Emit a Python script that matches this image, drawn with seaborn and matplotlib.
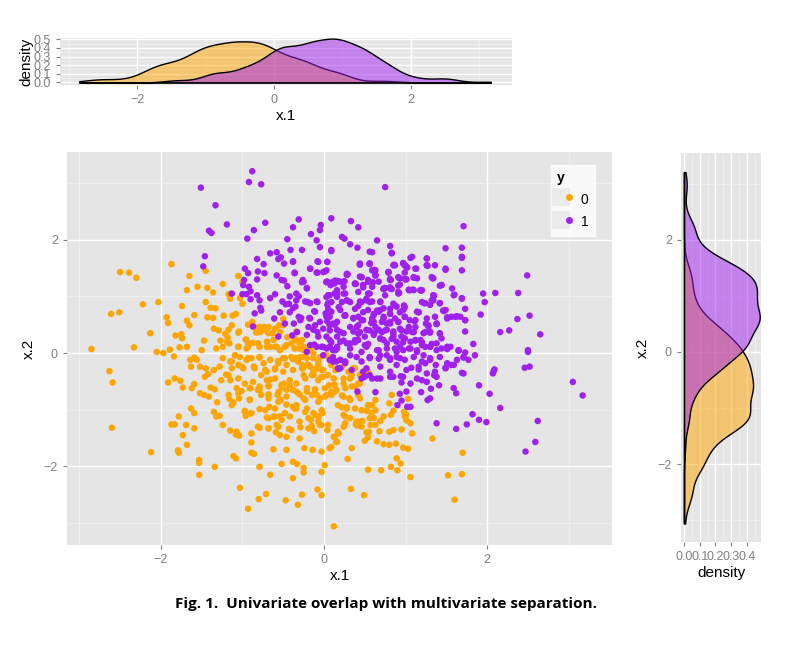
import matplotlib
matplotlib.use("Agg")
import matplotlib.pyplot as plt
from matplotlib.lines import Line2D
from matplotlib.legend_handler import HandlerTuple
import seaborn as sns
import pandas as pd

# points, (x.1, x.2), class y = 0 (orange)
class0_points = [
    (-2.50, 1.43), (-2.39, 1.42), (-2.30, 1.33), (-1.87, 1.57), (-1.65, 1.36), (-1.45, 1.45),
    (-2.22, 0.86), (-2.61, 0.69), (-2.51, 0.72), (-2.03, 0.90), (-2.13, 0.35), (-2.85, 0.07),
    (-2.33, 0.10), (-1.74, 0.83), (-1.93, 0.63), (-1.91, 0.53), (-1.68, 1.11), (-1.55, 1.17),
    (-1.43, 1.15), (-1.36, 1.07), (-1.24, 1.22), (-1.45, 0.90), (-1.39, 0.80), (-1.33, 0.79),
    (-1.59, 0.67), (-1.68, 0.57), (-1.65, 0.49), (-1.43, 0.63), (-1.36, 0.62), (-1.23, 0.66),
    (-1.12, 0.66), (-1.08, 0.69), (-1.17, 1.04), (-1.15, 0.96), (-1.05, 1.36), (-1.00, 1.25),
    (-1.03, 0.97), (-1.00, 0.87), (-1.35, 0.43), (-1.29, 0.40), (-1.21, 0.34), (-1.18, 0.27),
    (-1.13, 0.49), (-1.05, 0.36), (-1.82, 0.31), (-1.75, 0.33), (-1.74, 0.26), (-1.47, 0.22),
    (-1.27, 0.22), (-1.77, 0.10), (-1.68, 0.11), (-1.50, 0.05), (-1.16, 0.17), (-0.96, 0.24),
    (-0.88, 0.55), (-0.93, 0.50), (-0.84, 0.45), (-0.79, 0.46), (-0.73, 0.46), (-0.70, 0.40),
    (-0.78, 0.37), (-0.83, 0.36), (-0.68, 0.46), (-0.63, 0.35), (-0.55, 0.49), (-0.50, 0.60),
    (-0.54, 0.37), (-0.45, 0.28), (-0.93, 0.17), (-0.87, 0.18), (-0.79, 0.11), (-0.70, 0.11),
    (-0.93, 0.11), (-0.62, 0.23), (-0.58, 0.11), (-0.48, 0.11), (-0.34, 0.23), (-0.30, 0.17),
    (-0.25, 0.11), (-0.17, 0.08), (-0.36, 0.08),
    (-2.63, -0.32), (-2.59, -0.52), (-2.60, -1.32), (-2.12, -1.75), (-2.05, 0.02), (-1.97, 0.00),
    (-1.89, 0.06), (-1.84, -0.06), (-1.91, -0.52), (-1.83, -0.45), (-1.76, -0.49), (-1.73, -0.61),
    (-1.63, -0.98), (-1.59, -1.06), (-1.78, -1.12), (-1.87, -1.26), (-1.83, -1.26), (-1.69, -1.27),
    (-1.59, -1.33), (-1.73, -1.45), (-1.68, -1.62), (-1.79, -1.72), (-1.78, -1.76), (-1.53, -1.89),
    (-1.53, -1.94), (-1.53, -2.15), (-1.34, -2.01), (-1.03, -2.38), (-0.93, -2.75), (-0.80, -2.58),
    (-0.71, -2.49), (-0.47, -2.60), (-0.32, -2.68), (-0.27, -2.50), (-0.08, -2.41), (-0.03, -2.51),
    (-0.79, -2.01), (-0.66, -2.15), (-0.38, -2.21), (-0.38, -1.92), (-0.33, -1.96), (-0.25, -2.03),
    (-0.25, -2.11), (-0.03, -2.10), (0.01, -1.98), (-1.11, -1.82), (-1.08, -1.86), (-0.89, -1.76),
    (-0.86, -1.78), (-0.62, -1.70), (-0.46, -1.71), (-0.24, -1.68), (-0.14, -1.71), (-0.03, -1.74),
    (-0.89, -1.58), (-0.52, -1.96), (-0.30, -1.51), (0.07, -1.68),
    (-1.24, -1.27), (-1.15, -1.37), (-1.08, -1.44), (-1.04, -1.46), (-0.79, -1.32), (-0.68, -1.33),
    (-0.59, -1.40), (-0.54, -1.45), (-0.46, -1.48), (-0.43, -1.34), (-0.29, -1.31), (-0.15, -1.29),
    (-0.12, -1.38), (-0.03, -1.27), (0.04, -1.36), (0.12, -1.48), (0.15, -1.57),
    (-1.35, -1.04), (-1.32, -1.12), (-1.28, -1.11), (-0.97, -1.02), (-0.90, -1.07), (-0.96, -1.11),
    (-0.79, -0.99), (-0.70, -1.14), (-0.62, -1.12), (-0.54, -1.12), (-0.58, -1.27), (-0.67, -0.95),
    (-0.53, -0.83), (-0.46, -0.91), (-0.38, -0.95), (-0.34, -0.98), (-0.21, -0.98), (-0.13, -1.06),
    (-0.07, -1.12), (-0.02, -1.06), (-0.05, -1.27), (-0.16, -1.18),
    (-1.62, -0.62), (-1.59, -0.55), (-1.52, -0.71), (-1.47, -0.74), (-1.41, -0.77), (-1.39, -0.61),
    (-1.34, -0.64), (-1.31, -0.87), (-1.16, -0.81), (-1.11, -0.87), (-1.04, -0.80), (-0.91, -0.82),
    (-1.01, -0.67), (-0.90, -0.62), (-0.79, -0.65), (-0.68, -0.73), (-0.79, -0.59), (-0.68, -0.58),
    (-0.57, -0.74), (-0.55, -0.68), (-0.52, -0.60), (-0.49, -0.54), (-0.42, -0.57), (-0.38, -0.65),
    (-0.30, -0.73), (-0.21, -0.68), (-0.25, -0.80), (-0.11, -0.64), (-0.09, -0.74), (-0.05, -0.80),
    (0.03, -0.74), (0.06, -0.57), (0.15, -0.65),
    (-1.64, -0.12), (-1.59, -0.08), (-1.56, -0.12), (-1.63, -0.24), (-1.52, -0.24), (-1.45, -0.27),
    (-1.46, -0.42), (-1.42, -0.37), (-1.35, -0.30), (-1.28, -0.24), (-1.24, -0.09), (-1.26, -0.48),
    (-1.20, -0.38), (-1.15, -0.48), (-1.13, -0.15), (-1.09, -0.04), (-1.05, -0.21), (-0.99, -0.27),
    (-0.95, -0.12), (-0.89, -0.09), (-0.86, -0.24), (-0.79, -0.08), (-0.74, -0.18), (-0.70, -0.33),
    (-0.66, -0.47), (-0.60, -0.29), (-0.56, -0.14), (-0.50, -0.09), (-0.46, -0.21), (-0.38, -0.11),
    (-0.29, -0.07), (-0.26, -0.27), (-0.21, -0.21), (-0.13, -0.34), (-0.09, -0.27), (-0.01, -0.42),
    (-1.32, 0.08), (-1.24, 0.11), (-1.05, 0.11), (-0.95, 0.08), (-0.66, 0.11), (-0.54, 0.05),
    (-0.30, 0.08), (-0.19, 0.05),
    (1.33, -1.51), (1.70, -1.76), (1.69, -2.14), (1.52, -2.16), (1.60, -2.59), (1.06, -2.19),
    (0.54, -2.06), (0.70, -2.07), (0.82, -2.01), (0.90, -2.07), (0.94, -1.95), (0.89, -1.86),
    (0.33, -2.40), (0.49, -2.51), (0.12, -3.06), (0.29, -1.87), (0.34, -1.68), (0.73, -1.61),
    (0.80, -1.62), (0.88, -1.60), (0.97, -1.67), (1.03, -1.69),
    (1.08, -1.42), (1.06, -1.24), (1.01, -1.19), (0.95, -1.35), (0.85, -1.36), (0.80, -1.39),
    (0.68, -1.38), (0.65, -1.56), (0.50, -1.55), (0.54, -1.49), (0.55, -1.39), (0.47, -1.20),
    (0.41, -1.28), (0.24, -1.30), (0.18, -1.42), (0.13, -1.48), (0.16, -1.57), (0.09, -1.66),
    (0.98, -1.04), (1.01, -1.09), (0.99, -1.12), (0.85, -1.02), (0.82, -1.09), (0.73, -1.12),
    (0.69, -1.20), (0.61, -1.15), (0.57, -1.27), (0.52, -1.40), (0.45, -1.21), (0.39, -1.26),
    (0.32, -1.15), (0.24, -1.09), (0.26, -1.12), (0.22, -0.96), (0.28, -0.96), (0.38, -0.98),
    (0.83, -0.74), (1.03, -0.81), (0.80, -0.89), (0.63, -0.83), (0.59, -0.92), (0.54, -0.94),
    (0.63, -1.01), (0.52, -1.02), (0.44, -0.80), (0.31, -0.80), (0.22, -0.75), (0.14, -0.68),
    (0.12, -0.56), (0.26, -0.62), (0.38, -0.59), (0.44, -0.54), (0.32, -0.45), (0.24, -0.54),
    (0.30, -0.33), (0.38, -0.27), (0.44, -0.39), (0.54, -0.33), (0.14, -0.30), (0.22, -0.24),
    (0.12, -0.45),
    (-0.34, 0.38), (-0.36, 0.26), (-0.29, 0.17), (-0.25, 0.05), (-0.17, 0.08), (-0.34, -0.09),
    (-0.21, -0.09), (-0.13, -0.01), (-0.05, -0.07), (0.03, -0.04), (-0.27, -0.21), (-0.17, -0.24),
    (-0.07, -0.21), (-0.01, -0.30), (-0.25, -0.39), (-0.13, -0.39), (-0.03, -0.42), (0.09, -0.21),
    (0.36, -0.27), (0.34, -0.39), (0.46, -0.36),
    # dense core, second reading
    (-1.17, 0.41), (-1.04, 0.38), (-0.87, 0.46), (-0.81, 0.41), (-0.72, 0.43), (-0.68, 0.35),
    (-0.60, 0.43), (-0.50, 0.49), (-1.19, 0.20), (-1.05, 0.11), (-0.95, 0.23), (-0.81, 0.17),
    (-0.70, 0.20), (-0.60, 0.11), (-0.46, 0.14), (-0.40, 0.17), (-0.27, 0.23),
    (-1.15, -0.15), (-1.09, -0.04), (-1.03, -0.07), (-0.93, -0.09), (-0.79, -0.07), (-0.66, -0.12),
    (-0.56, -0.18), (-0.48, -0.09), (-0.40, -0.07), (-0.32, -0.15), (-0.25, -0.07), (-0.19, -0.21),
    (-0.13, -0.09), (-0.07, -0.15), (0.01, -0.04), (-1.13, -0.27), (-1.01, -0.24), (-0.85, -0.27),
    (-0.72, -0.30), (-0.60, -0.27), (-0.50, -0.33), (-0.38, -0.30), (-0.27, -0.27), (-0.13, -0.33),
    (-0.03, -0.30),
    (-1.17, -0.39), (-1.05, -0.45), (-0.97, -0.54), (-0.87, -0.51), (-0.77, -0.39), (-0.70, -0.48),
    (-0.60, -0.45), (-0.52, -0.56), (-0.42, -0.48), (-0.34, -0.54), (-0.23, -0.45), (-0.15, -0.39),
    (-0.07, -0.48), (0.05, -0.39), (0.13, -0.56), (0.24, -0.45), (0.34, -0.59), (0.42, -0.54),
    (-1.07, -0.62), (-0.91, -0.62), (-0.81, -0.65), (-0.68, -0.59), (-0.56, -0.71), (-0.46, -0.65),
    (-0.34, -0.68), (-0.21, -0.62), (-0.11, -0.65), (0.01, -0.62), (0.09, -0.68),
    (-1.17, -0.74), (-1.05, -0.71), (-0.91, -0.83), (-0.77, -0.74), (-0.68, -0.80), (-0.56, -0.86),
    (-0.46, -0.77), (-0.34, -0.92), (-0.23, -0.83), (-0.15, -0.74), (-0.07, -0.86), (0.01, -0.77),
    (0.09, -0.74), (0.24, -0.77), (0.32, -0.83), (0.42, -0.74), (0.54, -0.92), (-0.97, -1.04),
    (-0.89, -1.06), (-0.72, -1.01), (-0.60, -0.98), (-0.48, -1.06), (-0.36, -0.98), (-0.23, -1.04),
    (-0.11, -1.09), (-0.03, -1.01), (0.17, -0.92), (0.28, -0.98), (0.46, -1.01), (0.58, -1.06),
    (-1.13, -0.92),
    (-0.68, -1.15), (-0.60, -1.12), (-0.52, -1.18), (-0.42, -1.12), (-0.30, -1.21), (-0.19, -1.15),
    (-0.07, -1.21), (0.05, -1.27), (0.17, -1.39), (0.26, -1.24), (0.40, -1.21), (0.46, -1.30),
    (0.56, -1.15), (-0.81, -1.30), (-0.68, -1.33), (-0.56, -1.30), (-0.40, -1.36), (-0.19, -1.33),
    (-1.07, -1.39), (-0.89, -1.42), (0.63, -1.27),
]

# class y = 1 (purple)
class1_points = [
    (-0.88, 3.21), (-0.92, 3.02), (-0.77, 2.98), (-1.51, 2.92), (-1.33, 2.61), (-1.19, 2.27),
    (-1.41, 2.16), (-1.38, 2.12), (-0.86, 2.17), (-0.72, 2.30), (-0.94, 2.02), (-1.46, 1.71),
    (-1.48, 1.53), (-0.31, 2.36), (-0.38, 2.22), (-0.45, 2.01), (-0.16, 2.10), (-0.05, 2.17),
    (-0.04, 2.26), (0.09, 2.38), (-0.09, 1.99), (-0.05, 1.87), (-0.82, 1.66), (-0.66, 1.76),
    (-0.58, 1.78), (-0.53, 1.69), (-0.56, 1.66), (-0.41, 1.82), (-0.27, 1.82), (-0.38, 1.62),
    (-0.49, 1.58), (-0.74, 1.57), (-0.97, 1.49), (-0.93, 1.41), (-0.81, 1.44), (-0.73, 1.41),
    (-0.82, 1.30), (-0.98, 1.29), (-0.99, 1.20), (-0.92, 1.17), (-1.00, 1.04), (-0.95, 1.04),
    (-0.90, 1.09), (-1.13, 1.05), (-0.82, 1.02), (-0.90, 0.95), (-0.79, 0.93), (-0.78, 0.80),
    (-0.77, 0.75), (-0.66, 0.97), (-0.60, 1.04), (-0.58, 1.37), (-0.52, 1.29), (-0.49, 1.28),
    (-0.45, 1.18), (-0.36, 1.42), (-0.26, 1.29), (-0.27, 1.25), (-0.21, 1.15), (-0.17, 1.49),
    (-0.08, 1.42), (0.01, 1.44), (-0.08, 1.62), (0.04, 1.61), (-0.42, 1.00), (-0.51, 0.91),
    (-0.47, 0.86), (-0.43, 0.87), (-0.31, 1.00), (-0.35, 0.82), (-0.42, 0.72), (-0.61, 0.61),
    (-0.54, 0.72), (-0.48, 0.52), (-0.37, 0.52), (-0.28, 0.62), (-0.18, 0.62), (-0.20, 0.90),
    (-0.08, 0.90), (-0.12, 0.74), (-0.11, 0.49), (0.03, 0.99), (0.04, 0.85), (0.04, 1.26),
    (0.08, 1.20), (0.13, 1.23), (0.13, 1.05), (0.02, 0.70), (0.04, 0.56), (0.13, 0.50),
    (-0.33, 0.37), (-0.39, 0.31), (-0.21, 0.32), (-0.08, 0.37), (0.03, 0.29), (-0.12, 0.15),
    (-0.01, 0.11), (-0.56, 0.29), (-0.87, 0.47), (-0.85, 0.70),
    (0.75, 2.93), (0.33, 2.33), (0.42, 2.22), (1.71, 2.24), (0.22, 2.05), (0.25, 2.02),
    (0.32, 1.92), (0.41, 1.86), (0.65, 1.99), (0.81, 1.89), (0.83, 1.77), (0.59, 1.78),
    (0.09, 1.80), (1.49, 1.85), (1.69, 1.86), (1.69, 1.68), (1.06, 1.68), (1.26, 1.67),
    (0.97, 1.59), (1.02, 1.51), (1.00, 1.54), (1.27, 1.54), (1.13, 1.49), (0.86, 1.56),
    (0.44, 1.56), (0.56, 1.57), (0.62, 1.47), (0.63, 1.37), (1.49, 1.47), (2.49, 1.37),
    (0.99, 1.42), (0.92, 1.33), (1.10, 1.33), (1.00, 1.30), (1.33, 1.32), (0.29, 1.39),
    (0.79, 1.43), (0.46, 1.34), (0.54, 1.29), (0.60, 1.25), (0.17, 1.27), (0.25, 1.27),
    (0.12, 1.23), (0.39, 1.22), (0.48, 1.20), (0.82, 1.29), (1.44, 1.20), (0.73, 1.13),
    (0.75, 1.15), (0.83, 1.13), (0.93, 1.21), (0.92, 1.06), (1.04, 1.12), (1.09, 1.12),
    (1.19, 1.10), (1.60, 1.03), (1.69, 0.97), (1.95, 1.05), (2.10, 1.06), (2.38, 1.06),
    (1.97, 0.90), (1.35, 1.01), (1.32, 0.93), (1.42, 0.88), (1.23, 0.88), (1.73, 0.78),
    (1.63, 0.65), (1.56, 0.64), (1.51, 0.63), (1.47, 0.74), (1.92, 0.68), (2.52, 0.66),
    (2.37, 0.60), (1.73, 0.58), (2.16, 0.37), (2.27, 0.40), (2.65, 0.33), (1.83, 0.16),
    (2.50, 0.05), (1.65, 0.05), (1.51, 0.11), (1.38, 0.17), (1.16, 0.72), (1.05, 0.58),
    (1.11, 0.56), (0.98, 0.78), (0.98, 0.84), (0.86, 0.85), (0.81, 0.69), (0.69, 0.76),
    (0.61, 0.69), (0.58, 0.53), (0.65, 0.40), (0.56, 0.90), (0.46, 0.90), (0.42, 0.83),
    (0.32, 0.90), (0.24, 1.05), (0.22, 0.90), (0.16, 0.99), (0.25, 0.66), (0.36, 0.62),
    (0.48, 0.58), (0.73, 0.61), (0.81, 0.52), (0.91, 0.55), (1.25, 0.52), (1.28, 0.47),
    (1.38, 0.51), (1.30, 0.36), (1.42, 0.35), (1.18, 0.23), (1.06, 0.20), (0.95, 0.29),
    (0.85, 0.29), (0.73, 0.23), (0.52, 0.14), (0.38, 0.23), (0.28, 0.17), (0.16, 0.29),
    (0.11, 0.52), (0.16, 0.11), (0.44, 0.37), (0.61, 0.32), (0.75, 0.40), (1.10, 0.37),
    (0.93, 0.11), (1.30, 0.11), (1.14, 0.05),
    (2.50, 0.02), (2.46, -0.26), (2.52, -0.24), (2.08, -0.32), (2.09, -0.29), (2.07, -0.36),
    (3.05, -0.51), (3.17, -0.75), (1.90, -0.57), (2.03, -0.72), (2.16, -0.97), (1.82, -1.08),
    (1.90, -1.18), (1.99, -1.22), (1.75, -1.26), (1.62, -1.34), (1.38, -1.24), (2.62, -1.20),
    (2.59, -1.57), (2.47, -1.74), (1.69, -0.35), (1.59, -0.62), (1.62, -0.71), (1.85, -0.04),
    (1.77, -0.12), (1.71, -0.08), (1.73, 0.01), (1.65, 0.04), (1.49, -0.26), (1.56, -0.21),
    (1.51, 0.07), (1.41, -0.57), (1.19, -0.69), (1.31, -0.63), (1.27, -0.83), (1.30, -0.80),
    (1.26, -0.51), (1.20, -0.48), (1.16, -0.29), (1.07, -0.26), (1.35, -0.39), (1.37, -0.21),
    (1.30, -0.09), (1.22, -0.04), (1.14, 0.02), (1.06, 0.08), (1.24, -0.18), (1.06, -0.54),
    (0.95, -0.52), (0.94, -0.41), (0.85, -0.42), (1.01, -0.68), (0.93, -0.72), (0.95, -0.84),
    (0.90, -0.92), (1.02, -0.95), (1.06, -0.95), (0.63, -0.69), (0.41, -0.68), (0.69, -0.45),
    (0.59, -0.45), (0.50, -0.42), (0.48, -0.33), (0.56, -0.39), (0.18, -0.28), (0.11, -0.15),
    (0.26, -0.15), (0.32, -0.04), (0.46, 0.02), (0.56, -0.09), (0.69, -0.04), (0.77, 0.08),
    (0.89, 0.02), (0.97, 0.05), (0.81, -0.09), (0.93, -0.09),
    (-0.21, 0.02), (-0.09, 0.11), (0.03, 0.08), (0.11, 0.05), (0.15, -0.15), (0.07, -0.12),
    (0.17, -0.27), (-0.01, -0.04),
    (-0.38, 1.61), (-0.17, 1.49), (-0.07, 1.61), (0.04, 1.61), (-0.09, 1.42), (-0.01, 1.43),
    (0.09, 1.82), (0.56, 1.79), (0.83, 1.76), (1.08, 1.70), (1.26, 1.67), (1.26, 1.55),
    (1.69, 1.70), (0.44, 1.57), (0.56, 1.58), (0.85, 1.55), (0.97, 1.58), (1.01, 1.52),
    (0.79, 1.42), (0.59, 1.46), (0.63, 1.38), (1.49, 1.49), (1.69, 1.46),
    (-0.36, 1.41), (-0.25, 1.26), (0.03, 1.26), (0.11, 1.26), (0.20, 1.26), (0.24, 1.17),
    (0.16, 1.11), (0.07, 1.02), (0.28, 1.38), (0.38, 1.23), (0.44, 1.35), (0.48, 1.20),
    (0.54, 1.26), (0.59, 1.17), (0.67, 1.26), (0.81, 1.29), (0.93, 1.32), (1.01, 1.30),
    (1.14, 1.32), (1.34, 1.32), (1.44, 1.20), (1.57, 1.14), (0.73, 1.14), (0.81, 1.14),
    (0.91, 1.08), (1.04, 1.11), (1.10, 1.11), (1.20, 1.11), (1.34, 1.02), (1.59, 1.02),
    (1.69, 0.96), (-0.34, 1.05), (-0.21, 1.14), (-0.34, 0.93), (-0.23, 0.91), (0.28, 0.93),
    (0.56, 1.05), (0.59, 0.91), (0.69, 0.91), (0.44, 0.91), (0.52, 0.96),
    (-0.38, 0.79), (-0.31, 0.64), (-0.17, 0.88), (-0.09, 0.91), (-0.11, 0.73), (0.05, 0.88),
    (0.09, 0.73), (0.03, 0.64), (0.20, 0.76), (0.26, 0.67), (0.36, 0.61), (0.46, 0.58),
    (0.54, 0.76), (0.61, 0.67), (0.67, 0.73), (0.73, 0.79), (0.81, 0.70), (0.89, 0.82),
    (0.97, 0.76), (0.99, 0.64), (1.14, 0.73), (1.24, 0.88), (1.30, 0.85), (1.42, 0.88),
    (1.49, 0.76), (1.61, 0.64), (1.67, 0.64), (1.73, 0.58), (1.51, 0.61), (1.26, 0.61),
    (1.38, 0.52), (0.81, 0.55), (0.71, 0.55), (0.61, 0.55), (-0.05, 0.55), (-0.17, 0.61),
    (-0.29, 0.58), (0.16, 0.55),
    (-0.19, 0.46), (-0.13, 0.41), (-0.01, 0.43), (0.07, 0.49), (0.16, 0.41), (0.24, 0.35),
    (0.36, 0.38), (0.40, 0.46), (0.52, 0.41), (0.61, 0.35), (0.67, 0.41), (0.77, 0.41),
    (0.85, 0.38), (0.93, 0.43), (1.01, 0.38), (1.12, 0.46), (1.22, 0.35), (1.30, 0.38),
    (1.44, 0.26), (1.55, 0.11), (1.65, 0.05), (1.73, 0.38), (-0.07, 0.29), (0.07, 0.23),
    (0.20, 0.20), (0.32, 0.17), (0.42, 0.23), (0.50, 0.29), (0.69, 0.26), (0.77, 0.17),
    (0.89, 0.20), (0.99, 0.26), (1.12, 0.23), (1.20, 0.14), (1.30, 0.11), (1.38, 0.05),
    (0.07, 0.11), (-0.03, 0.11), (-0.17, 0.14), (0.16, 0.08), (0.52, 0.11), (0.65, 0.05),
    (0.11, -0.07), (0.20, -0.12), (0.26, -0.18), (0.40, -0.07), (0.46, -0.15), (0.56, -0.07),
    (0.67, -0.10), (0.77, -0.04), (0.81, -0.12), (0.89, -0.07), (0.99, -0.12), (1.10, -0.07),
    (1.20, -0.15), (1.30, -0.12), (1.42, -0.07), (1.51, -0.18), (1.63, -0.12), (1.71, -0.07),
    (0.20, -0.27), (0.34, -0.30), (0.52, -0.27), (0.69, -0.24), (0.81, -0.33), (0.89, -0.21),
    (1.01, -0.30), (1.16, -0.24), (1.26, -0.36), (1.36, -0.33), (1.49, -0.27), (1.59, -0.21),
    (1.71, -0.36), (0.46, -0.45), (0.65, -0.45), (0.81, -0.42), (0.97, -0.42), (1.14, -0.45),
    (1.38, -0.42),
    # dense core, second reading
    (0.03, 1.46), (0.28, 1.40), (0.44, 1.58), (0.56, 1.58), (0.63, 1.46), (0.79, 1.43),
    (0.87, 1.55), (0.99, 1.55), (1.12, 1.49), (1.26, 1.55), (1.36, 1.55), (0.46, 1.34),
    (0.63, 1.37), (0.81, 1.31), (0.91, 1.34), (0.99, 1.31), (1.10, 1.34), (1.32, 1.34),
    (0.03, 1.25), (0.14, 1.28), (0.24, 1.25), (0.38, 1.22), (0.48, 1.16), (0.73, 1.13),
    (0.81, 1.16), (0.91, 1.19), (1.06, 1.11), (1.18, 1.11), (1.42, 1.19), (0.05, 1.02),
    (0.16, 1.05), (0.26, 1.05), (0.42, 1.08), (0.54, 1.05), (0.75, 1.02), (0.91, 1.05),
    (1.34, 1.02), (0.09, 0.90), (0.28, 0.93), (0.52, 0.93), (0.69, 0.90), (0.85, 0.87),
    (0.99, 0.81), (1.20, 0.90), (1.34, 0.93), (0.05, 0.78), (0.18, 0.81), (0.38, 0.78),
    (0.48, 0.72), (0.65, 0.75), (0.81, 0.78), (0.93, 0.72), (1.16, 0.72), (1.46, 0.75),
    (0.07, 0.64), (0.26, 0.66), (0.42, 0.64), (0.59, 0.61), (0.73, 0.64), (0.87, 0.61),
    (0.99, 0.64), (1.36, 0.64), (0.14, 0.52), (0.32, 0.46), (0.42, 0.49), (0.59, 0.55),
    (0.63, 0.46), (0.77, 0.52), (0.91, 0.55), (1.04, 0.46), (1.12, 0.58), (1.28, 0.49),
    (1.38, 0.52), (0.07, 0.40), (0.20, 0.37), (0.42, 0.34), (0.56, 0.40), (0.71, 0.37),
    (0.85, 0.34), (0.95, 0.40), (1.08, 0.37), (1.24, 0.37), (1.42, 0.34), (0.09, 0.19),
    (0.24, 0.22), (0.38, 0.19), (0.54, 0.16), (0.69, 0.25), (0.83, 0.25), (0.97, 0.19),
    (1.12, 0.22), (1.20, 0.19), (1.32, 0.16), (0.14, 0.05), (0.32, 0.08), (0.50, 0.14),
    (0.67, 0.05), (0.87, 0.08), (1.04, 0.08), (1.24, 0.11), (1.44, 0.08),
]

class_labels = ["0", "1"]
class_colors = {"0": "#FFA500", "1": "#A020F0"}

df = pd.DataFrame(
    [(a, b, "0") for a, b in class0_points] + [(a, b, "1") for a, b in class1_points],
    columns=["x.1", "x.2", "y"],
)

grey_bg = "#E5E5E5"
tick_grey = "#7F7F7F"

plt.rcParams["font.family"] = ["Liberation Sans", "DejaVu Sans"]

fig = plt.figure(figsize=(8.01, 6.45), dpi=100)
ax_main = fig.add_axes([67 / 801, 100 / 645, 545 / 801, 393 / 645])
ax_top = fig.add_axes([60 / 801, 560 / 645, 452 / 801, 47 / 645])
ax_right = fig.add_axes([681 / 801, 103 / 645, 80 / 801, 389 / 645])


def ggplot_axes(ax, xmajor, xminor, ymajor, yminor):
    ax.set_facecolor(grey_bg)
    for s in ax.spines.values():
        s.set_visible(False)
    ax.set_xticks(xmajor)
    ax.set_yticks(ymajor)
    ax.set_xticks(xminor, minor=True)
    ax.set_yticks(yminor, minor=True)
    ax.grid(True, which="major", color="white", linewidth=1.0)
    ax.grid(True, which="minor", color="#F2F2F2", linewidth=0.5)
    ax.set_axisbelow(True)
    ax.tick_params(which="major", colors=tick_grey, labelsize=9, length=3, width=0.8)
    ax.tick_params(which="minor", length=0)


# main scatter
sns.scatterplot(data=df, x="x.1", y="x.2", hue="y", palette=class_colors,
                s=22, linewidth=0, alpha=1, legend=False, ax=ax_main)
ax_main.set_xlim(-3.15, 3.53)
ax_main.set_ylim(-3.39, 3.55)
ggplot_axes(ax_main, [-2, 0, 2], [-3, -1, 1, 3], [-2, 0, 2], [-3, -1, 1, 3])
ax_main.set_xticklabels(["\u22122", "0", "2"])
ax_main.set_yticklabels(["\u22122", "0", "2"])
ax_main.set_xlabel("x.1", fontsize=11, labelpad=2)
ax_main.set_ylabel("x.2", fontsize=11, labelpad=6)

# legend with grey key boxes like ggplot
handles = [(Line2D([], [], marker="s", linestyle="", markersize=13,
                   markerfacecolor="#EBEBEB", markeredgewidth=0),
            Line2D([], [], marker="o", linestyle="", markersize=5,
                   markerfacecolor=class_colors[c], markeredgewidth=0))
           for c in class_labels]
leg = ax_main.legend(handles=handles, labels=class_labels, title="y", loc="upper right",
                     bbox_to_anchor=(0.968, 0.968), borderaxespad=0, frameon=True,
                     fancybox=False, fontsize=10, handletextpad=0.5, borderpad=0.45,
                     labelspacing=0.45, handlelength=1.2, handleheight=1.4,
                     handler_map={tuple: HandlerTuple(ndivide=None, pad=0)})
leg.get_frame().set_facecolor("white")
leg.get_frame().set_edgecolor("white")
leg.get_title().set_fontweight("bold")
leg.get_title().set_fontsize(10)
leg._legend_box.align = "left"

# top marginal density of x.1 (purple drawn over orange)
sns.kdeplot(data=df, x="x.1", hue="y", hue_order=["1", "0"], palette=class_colors,
            fill=True, alpha=0.5, common_norm=False, common_grid=True, cut=0, bw_adjust=0.8,
            edgecolor="black", linewidth=1.0, legend=False, ax=ax_top)
ax_top.set_xlim(-3.13, 3.48)
ax_top.set_ylim(-0.03, 0.515)
ggplot_axes(ax_top, [-2, 0, 2], [-3, -1, 1, 3],
            [0.0, 0.1, 0.2, 0.3, 0.4, 0.5], [0.05, 0.15, 0.25, 0.35, 0.45])
ax_top.set_xticklabels(["\u22122", "0", "2"])
ax_top.set_yticklabels(["0.0", "0.1", "0.2", "0.3", "0.4", "0.5"])
ax_top.set_xlabel("x.1", fontsize=11, labelpad=2)
ax_top.set_ylabel("density", fontsize=11, labelpad=0)

# right marginal density of x.2
sns.kdeplot(data=df, y="x.2", hue="y", hue_order=["1", "0"], palette=class_colors,
            fill=True, alpha=0.5, common_norm=False, common_grid=True, cut=0, bw_adjust=0.8,
            edgecolor="black", linewidth=1.0, legend=False, ax=ax_right)
ax_right.set_xlim(-0.019, 0.489)
ax_right.set_ylim(-3.39, 3.55)
ggplot_axes(ax_right, [0.0, 0.1, 0.2, 0.3, 0.4], [0.05, 0.15, 0.25, 0.35, 0.45],
            [-2, 0, 2], [-3, -1, 1, 3])
ax_right.set_xticklabels(["0.0", "0.1", "0.2", "0.3", "0.4"])
ax_right.set_yticklabels(["\u22122", "0", "2"])
ax_right.set_xlabel("density", fontsize=11, labelpad=2)
ax_right.set_ylabel("x.2", fontsize=11, labelpad=6)

fig.text(0.482, 0.063, "Fig. 1.  Univariate overlap with multivariate separation.",
         ha="center", va="center", fontsize=11, fontweight="bold",
         family=["Open Sans", "DejaVu Sans"])

fig.savefig("out.png", dpi=100)
